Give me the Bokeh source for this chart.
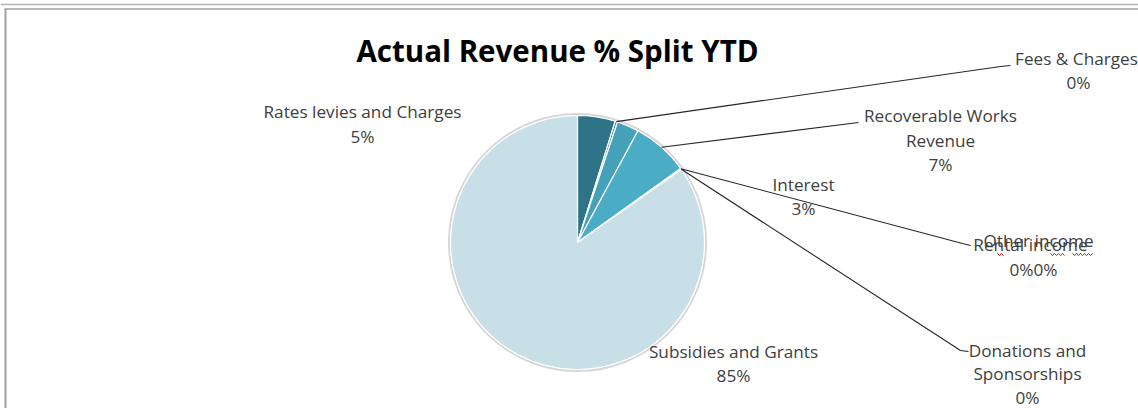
import math
from bokeh.plotting import figure
from bokeh.models import Range1d
from bokeh.embed import file_html
from bokeh.resources import INLINE
from bokeh.core.properties import value

# ---- data ----
categories = ["Rates levies and Charges", "Fees & Charges", "Interest",
              "Recoverable Works Revenue", "Rental income", "Other income",
              "Donations and Sponsorships", "Subsidies and Grants"]
shares = [4.8, 0.3, 2.8, 7.2, 0.05, 0.05, 0.05, 84.75]
pct_labels = ["5%", "0%", "3%", "7%", "0%", "0%", "0%", "85%"]
colors = ["#2e7387", "#3a8aa0", "#45a1b9", "#4bacc6", "#7fc3d6", "#9ed2e0",
          "#b4dbe6", "#c9dfe7"]
title_text = "Actual Revenue % Split YTD"

W, H = 1138, 408
FONT = "Open Sans"
LBL = "#404040"


def P(X, Y):
    """screenshot pixel -> data coords"""
    return X, H - Y


p = figure(width=W, height=H, output_backend="svg", toolbar_location=None,
           x_range=Range1d(0, W), y_range=Range1d(0, H), min_border=0)
p.axis.visible = False
p.grid.visible = False
p.outline_line_color = None
p.background_fill_color = "white"

# frame lines
p.segment(x0=[0], y0=[H - 4], x1=[W], y1=[H - 4], line_color="#b4b4b4", line_width=1.5)
p.segment(x0=[4], y0=[H - 8.5], x1=[W], y1=[H - 8.5], line_color="#a0a0a0", line_width=1.5)
p.segment(x0=[5], y0=[0], x1=[5], y1=[H - 8.5], line_color="#a0a0a0", line_width=2)

# ---- pie ----
cx, cy = P(577, 242)
R = 127
total = sum(shares)
starts, ends, mids = [], [], []
cum = 0.0
for s in shares:
    a0 = math.pi / 2 - 2 * math.pi * cum / total
    cum += s
    a1 = math.pi / 2 - 2 * math.pi * cum / total
    starts.append(a0)
    ends.append(a1)
    mids.append((a0 + a1) / 2)

p.circle(x=[cx], y=[cy], radius=R + 1.5, fill_color=None, line_color="#d6d6d6", line_width=2)
p.wedge(x=cx, y=cy, radius=R, start_angle=starts, end_angle=ends, direction="clock",
        fill_color=colors, line_color="white", line_width=1.2)


def edge(i):
    return cx + R * math.cos(mids[i]), cy + R * math.sin(mids[i])


# ---- leader lines ----
def leader(i, pts):
    x0, y0 = edge(i)
    xs = [x0] + [P(a, b)[0] for a, b in pts]
    ys = [y0] + [P(a, b)[1] for a, b in pts]
    p.line(xs, ys, line_color="#262626", line_width=1.1)


leader(1, [(1000, 66), (1010, 65)])
leader(3, [(858, 122)])
leader(4, [(962, 243), (970, 245)])
leader(6, [(960, 350), (968, 351)])


# ---- text ----
def txt(s, X, Y, size="17.2px", color=LBL, style="normal", align="center"):
    x, y = P(X, Y)
    p.text(x=[x], y=[y], text=[s], text_font=value(FONT), text_font_size=size,
           text_color=color, text_align=align, text_baseline="middle",
           text_font_style=style)


txt(title_text, 557, 50, size="29.5px", color="#000000", style="bold")

txt(categories[0], 362, 111)
txt(pct_labels[0], 362, 136)

txt("Fees & Charges", 1076, 58)
txt(pct_labels[1], 1078, 82)

txt("Recoverable Works", 940, 115)
txt("Revenue", 940, 140)
txt(pct_labels[3], 940, 164)

txt(categories[2], 803, 184)
txt(pct_labels[2], 803, 208)

txt(categories[4], 1030, 244)
txt(categories[5], 1038, 240)
txt(pct_labels[4], 1021, 269)
txt(pct_labels[5], 1045, 269)

txt("Donations and", 1027, 350)
txt("Sponsorships", 1027, 373)
txt(pct_labels[6], 1027, 397)

txt(categories[7], 733, 351)
txt(pct_labels[7], 733, 375)


# spell-check squiggles under the overlapping labels
def squiggle(X0, X1, Y):
    xs, ys = [], []
    k = 0
    X = X0
    while X <= X1:
        x, y = P(X, Y + (1.2 if k % 2 else -1.2))
        xs.append(x)
        ys.append(y)
        X += 2
        k += 1
    p.line(xs, ys, line_color="#e02020", line_width=1)


squiggle(997, 1004, 254)
squiggle(1050, 1064, 254)
squiggle(1072, 1093, 254)

open("out.html", "w").write(file_html(p, INLINE))
